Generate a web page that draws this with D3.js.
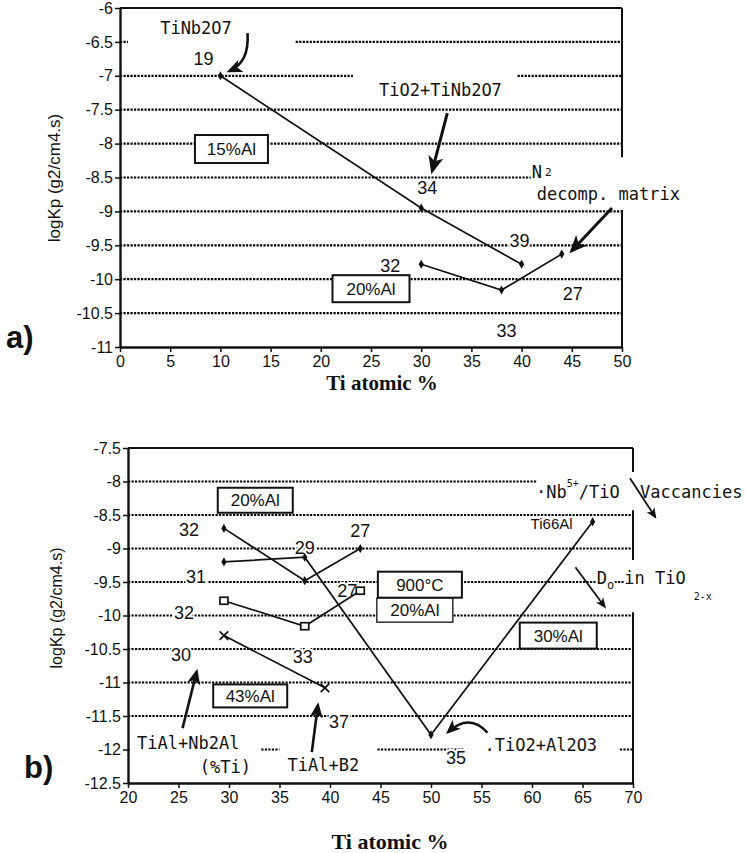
<!DOCTYPE html>
<html>
<head>
<meta charset="utf-8">
<script src="https://cdn.jsdelivr.net/npm/d3@7"></script>
<style>
    body { margin: 0; background: #fff; }
    svg text { font-family: "Liberation Sans", Arial, sans-serif; fill: #111; }
    svg text.tw { font-family: "DejaVu Sans Mono", monospace; }
    svg text.serif { font-family: "Liberation Serif", "Times New Roman", serif; font-weight: bold; }
    .halo { paint-order: stroke; stroke: #fff; stroke-width: 4px; stroke-linejoin: round; }
    .grid { stroke: #000; stroke-width: 2.2; stroke-dasharray: 2.2,1.3; }
    .frame { stroke: #111; stroke-width: 2; }
    .series { fill: none; stroke: #111; stroke-width: 1.7; }
    .arrow { fill: none; stroke: #111; }
</style>
</head>
<body>
<svg id="chart" width="745" height="853"></svg>
<script>

// ---------- panel a) data ----------
const aXTicks = [0, 5, 10, 15, 20, 25, 30, 35, 40, 45, 50];
const aYTicks = [-6, -6.5, -7, -7.5, -8, -8.5, -9, -9.5, -10, -10.5, -11];
const aGridLevels = [-6.5, -7, -7.5, -8, -8.5, -9, -9.5, -10, -10.5];
const aGridSpans = [[[0, 0.8], [17.5, 50]], [[0, 23.2], [39.6, 50]], [[0, 50]], [[0, 50]],
                    [[0, 41]], [[0, 50]], [[0, 50]], [[0, 50]], [[0, 50]]];
const a15X = [10, 30, 40];
const a15Y = [-7, -8.95, -9.78];
const a15Labels = ["19", "34", "39"];
const a20X = [30, 38, 44];
const a20Y = [-9.78, -10.16, -9.63];
const a20Labels = ["32", "33", "27"];
const aBoxes = ["15%Al", "20%Al"];

// ---------- panel b) data ----------
const bXTicks = [20, 25, 30, 35, 40, 45, 50, 55, 60, 65, 70];
const bYTicks = [-7.5, -8, -8.5, -9, -9.5, -10, -10.5, -11, -11.5, -12, -12.5];
const bGridLevels = [-8, -8.5, -9, -9.5, -10, -10.5, -11, -11.5, -12];
const bGridSpans = [[[20, 60.5]], [[20, 70]], [[20, 70]], [[20, 70]], [[20, 70]],
                    [[20, 70]], [[20, 70]], [[20, 70]], [[33.2, 35], [44.7, 53.2], [68.7, 70]]];
const b1X = [29.5, 37.5, 43];
const b1Y = [-8.7, -9.48, -9.0];
const b1Labels = ["32", "", "27"];
const b2X = [29.5, 37.5, 50, 66];
const b2Y = [-9.2, -9.13, -11.78, -8.6];
const b2Labels = ["31", "29", "35", "Ti66Al"];
const b3X = [29.5, 37.5, 43];
const b3Y = [-9.78, -10.16, -9.63];
const b3Labels = ["32", "33", "27"];
const b4X = [29.5, 39.5];
const b4Y = [-10.3, -11.08];
const b4Labels = ["30", "37"];
const bBoxes = ["20%Al", "43%Al", "900°C", "20%Al", "30%Al"];

const xTitle = "Ti atomic %";
const yTitle = "logKp (g2/cm4.s)";

const svg = d3.select("#chart");

// arrow heads
const defs = svg.append("defs");
defs.append("marker")
    .attr("id", "head")
    .attr("viewBox", "0 0 10 10")
    .attr("refX", 8).attr("refY", 5)
    .attr("markerWidth", 6).attr("markerHeight", 6)
    .attr("orient", "auto")
    .append("path")
    .attr("d", "M0,0.8L10,5L0,9.2L2.5,5z")
    .attr("fill", "#111");

class LogKpPanel {

    constructor(svg, opts) {
        this.svg = svg;
        this.opts = opts;
        this.initVis();
    }

    initVis() {
        let vis = this;
        let o = vis.opts;

        vis.x = d3.scaleLinear().domain(o.xDomain).range(o.xRange);
        vis.y = d3.scaleLinear().domain(o.yDomain).range(o.yRange);
        vis.g = vis.svg.append("g");

        // dotted grid, with the gaps the original has
        o.gridLevels.forEach(function(lv, i) {
            o.gridSpans[i].forEach(function(s) {
                vis.g.append("line").attr("class", "grid")
                    .attr("x1", vis.x(s[0])).attr("x2", vis.x(s[1]))
                    .attr("y1", vis.y(lv)).attr("y2", vis.y(lv));
            });
        });

        // top border + broken right border
        vis.g.append("line").attr("class", "frame")
            .attr("x1", vis.x(o.xDomain[0])).attr("x2", vis.x(o.xDomain[1]))
            .attr("y1", vis.y(o.yDomain[1])).attr("y2", vis.y(o.yDomain[1]));
        o.rightSpans.forEach(function(s) {
            vis.g.append("line").attr("class", "frame")
                .attr("x1", vis.x(o.xDomain[1])).attr("x2", vis.x(o.xDomain[1]))
                .attr("y1", vis.y(s[0])).attr("y2", vis.y(s[1]));
        });

        // axes
        vis.xAxis = d3.axisBottom(vis.x).tickValues(o.xTicks)
            .tickSize(5).tickSizeOuter(0).tickPadding(4).tickFormat(d => d);
        vis.yAxis = d3.axisLeft(vis.y).tickValues(o.yTicks)
            .tickSize(5).tickSizeOuter(0).tickPadding(2).tickFormat(d => String(d));

        let xg = vis.g.append("g")
            .attr("transform", "translate(0," + vis.y(o.yDomain[0]) + ")")
            .call(vis.xAxis);
        let yg = vis.g.append("g")
            .attr("transform", "translate(" + vis.x(o.xDomain[0]) + ",0)")
            .call(vis.yAxis);
        [xg, yg].forEach(function(ag) {
            ag.attr("font-size", 16);
            ag.select(".domain").attr("stroke", "#111").attr("stroke-width", 2.4);
            ag.selectAll(".tick line").attr("stroke", "#111").attr("stroke-width", 1.5);
            ag.selectAll(".tick text").attr("fill", "#111");
        });
        yg.selectAll(".tick line").attr("x2", -5).attr("x1", 2);

        // boxed labels
        o.boxes.forEach(function(b, i) {
            let L = o.boxLayout[i];
            let cx = vis.x(L.x), cy = vis.y(L.y);
            vis.g.append("rect")
                .attr("x", cx - L.w / 2).attr("y", cy - L.h / 2)
                .attr("width", L.w).attr("height", L.h)
                .attr("fill", "#fff").attr("stroke", "#111")
                .attr("stroke-width", L.thin ? 1.3 : 2);
            vis.g.append("text")
                .attr("x", cx).attr("y", cy + 6)
                .attr("text-anchor", "middle")
                .attr("font-size", 17)
                .text(b);
        });

        // series lines, markers and sample labels
        o.series.forEach(function(s) {
            let pts = s.xs.map((xv, i) => [xv, s.ys[i]]);
            s.labels.forEach(function(t, i) {
                if (!t) return;
                vis.g.append("text").attr("class", "halo")
                    .attr("x", vis.x(pts[i][0]) + s.offsets[i][0])
                    .attr("y", vis.y(pts[i][1]) + s.offsets[i][1] + 6)
                    .attr("text-anchor", "middle")
                    .attr("font-size", t.length > 2 ? 15 : 18)
                    .text(t);
            });
            vis.g.append("path").attr("class", "series")
                .datum(pts)
                .attr("d", d3.line().x(d => vis.x(d[0])).y(d => vis.y(d[1])));
            pts.forEach(function(p) {
                let px = vis.x(p[0]), py = vis.y(p[1]);
                if (s.marker === "square") {
                    vis.g.append("rect").attr("x", px - 4).attr("y", py - 3.5)
                        .attr("width", 8).attr("height", 7)
                        .attr("fill", "#fff").attr("stroke", "#111").attr("stroke-width", 1.7);
                } else if (s.marker === "x") {
                    vis.g.append("path").attr("transform", "translate(" + px + "," + py + ")")
                        .attr("d", d3.symbol(d3.symbolX, 50)())
                        .attr("fill", "none").attr("stroke", "#111").attr("stroke-width", 1.7);
                } else {
                    vis.g.append("path").attr("transform", "translate(" + px + "," + py + ")")
                        .attr("d", d3.symbol(d3.symbolDiamond, 24)())
                        .attr("fill", "#111");
                }
            });
        });

        // typewriter annotations
        o.notes.forEach(function(n) {
            let t = vis.g.append("text").attr("class", "tw halo")
                .attr("x", vis.x(n.x)).attr("y", vis.y(n.y))
                .attr("font-size", n.size);
            n.parts.forEach(function(p) {
                t.append("tspan")
                    .attr("dx", p.dx || 0).attr("dy", p.dy || 0)
                    .attr("font-size", p.size || null)
                    .text(p.t);
            });
        });

        // arrows
        o.arrows.forEach(function(a) {
            let x0 = vis.x(a.from[0]), y0 = vis.y(a.from[1]);
            let x1 = vis.x(a.to[0]), y1 = vis.y(a.to[1]);
            let d = a.ctrl
                ? "M" + x0 + "," + y0 + "Q" + vis.x(a.ctrl[0]) + "," + vis.y(a.ctrl[1]) + " " + x1 + "," + y1
                : "M" + x0 + "," + y0 + "L" + x1 + "," + y1;
            vis.g.append("path").attr("class", "arrow")
                .attr("d", d)
                .attr("stroke-width", a.w)
                .attr("marker-end", "url(#head)");
        });

        // titles
        vis.svg.append("text").attr("class", "serif")
            .attr("x", o.xTitlePos[0]).attr("y", o.xTitlePos[1])
            .attr("text-anchor", "middle")
            .attr("font-size", o.xTitleSize)
            .text(xTitle);
        vis.svg.append("text")
            .attr("transform", "translate(" + o.yTitlePos[0] + "," + o.yTitlePos[1] + ") rotate(-90)")
            .attr("text-anchor", "middle")
            .attr("font-size", o.yTitleSize)
            .text(yTitle);
        vis.svg.append("text")
            .attr("x", o.tagPos[0]).attr("y", o.tagPos[1])
            .attr("font-size", 31)
            .attr("font-weight", "bold")
            .text(o.tag);
    }
}

new LogKpPanel(svg, {
    xDomain: [0, 50], xRange: [120, 622],
    yDomain: [-11, -6], yRange: [347, 8],
    xTicks: aXTicks, yTicks: aYTicks,
    gridLevels: aGridLevels, gridSpans: aGridSpans,
    rightSpans: [[-6, -8.2], [-8.98, -11]],
    boxes: aBoxes,
    boxLayout: [{x: 11.1, y: -8.08, w: 73, h: 28}, {x: 25.0, y: -10.14, w: 77, h: 27}],
    series: [
        {xs: a15X, ys: a15Y, labels: a15Labels, marker: "dot",
         offsets: [[-17, -17], [6, -20], [-2, -23]]},
        {xs: a20X, ys: a20Y, labels: a20Labels, marker: "dot",
         offsets: [[-31, 2], [5, 41], [11, 40]]}
    ],
    notes: [
        {x: 4.0, y: -6.38, size: 17, parts: [{t: "TiNb2O7"}]},
        {x: 25.8, y: -7.3, size: 17, parts: [{t: "TiO2+TiNb2O7"}]},
        {x: 41.0, y: -8.5, size: 17, parts: [{t: "N"}, {t: "2", size: 11, dx: 3, dy: -2}]},
        {x: 41.5, y: -8.83, size: 17, parts: [{t: "decomp. matrix"}]}
    ],
    arrows: [
        {from: [12.7, -6.37], ctrl: [12.9, -6.8], to: [10.9, -6.93], w: 2.6},
        {from: [32.6, -7.55], to: [31.1, -8.4], w: 3},
        {from: [49.0, -8.95], to: [45.0, -9.58], w: 3}
    ],
    xTitlePos: [382, 390], xTitleSize: 21, yTitlePos: [60, 178], yTitleSize: 17,
    tag: "a)", tagPos: [6, 348]
});

new LogKpPanel(svg, {
    xDomain: [20, 70], xRange: [128, 633],
    yDomain: [-12.5, -7.5], yRange: [783, 448],
    xTicks: bXTicks, yTicks: bYTicks,
    gridLevels: bGridLevels, gridSpans: bGridSpans,
    rightSpans: [[-7.5, -7.86], [-8.43, -9.17], [-9.95, -12.5]],
    boxes: bBoxes,
    boxLayout: [{x: 32.6, y: -8.28, w: 75, h: 25}, {x: 32.1, y: -11.2, w: 74, h: 23},
                {x: 48.9, y: -9.54, w: 84, h: 26}, {x: 48.4, y: -9.92, w: 76, h: 24, thin: true},
                {x: 62.6, y: -10.3, w: 77, h: 26}],
    series: [
        {xs: b1X, ys: b1Y, labels: b1Labels, marker: "dot",
         offsets: [[-35, 2], [0, 0], [0, -18]]},
        {xs: b2X, ys: b2Y, labels: b2Labels, marker: "dot",
         offsets: [[-28, 15], [0, -9], [25, 23], [-41, 1]]},
        {xs: b3X, ys: b3Y, labels: b3Labels, marker: "square",
         offsets: [[-40, 12], [-2, 31], [-13, 0]]},
        {xs: b4X, ys: b4Y, labels: b4Labels, marker: "x",
         offsets: [[-43, 19], [14, 34]]}
    ],
    notes: [
        {x: 60.4, y: -8.25, size: 17, parts: [{t: "·Nb"}, {t: "5+", size: 10, dy: -11}, {t: "/TiO", dy: 11}]},
        {x: 70.7, y: -8.25, size: 17, parts: [{t: "Vaccancies"}]},
        {x: 66.4, y: -9.53, size: 17, parts: [{t: "D"}, {t: "o", size: 12, dy: 5}, {t: " in TiO", dy: -5},
                                              {t: "2-x", size: 10, dx: 8, dy: 16}]},
        {x: 55.3, y: -12.02, size: 17, parts: [{t: ".TiO2+Al2O3"}]},
        {x: 20.9, y: -11.99, size: 17, parts: [{t: "TiAl+Nb2Al"}]},
        {x: 27.1, y: -12.35, size: 17, parts: [{t: "(%Ti)"}]},
        {x: 35.8, y: -12.32, size: 17, parts: [{t: "TiAl+B2"}]}
    ],
    arrows: [
        {from: [69.7, -7.95], to: [72.2, -8.53], w: 1.8},
        {from: [64.3, -9.28], to: [67.2, -9.87], w: 1.8},
        {from: [55.6, -11.75], ctrl: [53.8, -11.45], to: [51.7, -11.74], w: 2.4},
        {from: [25.4, -11.68], to: [26.8, -10.84], w: 2.6},
        {from: [38.2, -12.04], to: [38.8, -11.34], w: 2.6}
    ],
    xTitlePos: [390, 849], xTitleSize: 22, yTitlePos: [62, 608], yTitleSize: 16,
    tag: "b)", tagPos: [24, 778]
});

</script>
</body>
</html>
